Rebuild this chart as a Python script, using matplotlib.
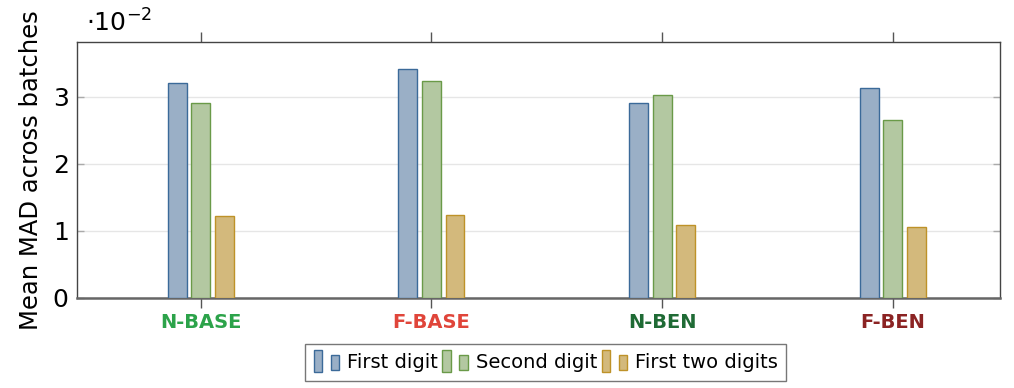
import numpy as np
import matplotlib
matplotlib.use("Agg")
import matplotlib.pyplot as plt
from matplotlib.patches import Rectangle
from matplotlib.legend_handler import HandlerBase

plt.rcParams['font.family'] = 'DejaVu Sans'

categories = ["N-BASE", "F-BASE", "N-BEN", "F-BEN"]
cat_colors = ["#2ca34a", "#e0453a", "#1f6b35", "#8b2323"]
series_names = ["First digit", "Second digit", "First two digits"]
first_digit = [3.21, 3.42, 2.91, 3.13]
second_digit = [2.91, 3.24, 3.03, 2.66]
first_two = [1.22, 1.24, 1.09, 1.06]

fills = ["#9aafc6", "#b3c8a1", "#d3b97c"]
edges = ["#3b6a99", "#6a9a48", "#be9228"]


class TwoBarHandler(HandlerBase):
    # pgfplots style legend image: two small bars
    def create_artists(self, legend, orig_handle, xdescent, ydescent,
                       width, height, fontsize, trans):
        fc = orig_handle.get_facecolor()
        ec = orig_handle.get_edgecolor()
        w = width * 0.3
        r1 = Rectangle((-xdescent, -ydescent - 0.3 * height), w, height * 1.6,
                       facecolor=fc, edgecolor=ec, lw=1.0, transform=trans)
        r2 = Rectangle((-xdescent + width * 0.62, -ydescent - 0.15 * height), w, height * 1.1,
                       facecolor=fc, edgecolor=ec, lw=1.0, transform=trans)
        return [r1, r2]


fig = plt.figure(figsize=(10.14, 3.88), dpi=100)
ax = fig.add_axes([0.0759, 0.232, 0.91, 0.660])

x = np.arange(len(categories))
bw = 0.082
off = 0.102
handles = []
for i, vals in enumerate([first_digit, second_digit, first_two]):
    b = ax.bar(x + (i - 1) * off, vals, bw, color=fills[i], edgecolor=edges[i],
               linewidth=1.0, label=series_names[i], zorder=3)
    handles.append(b.patches[0])

ax.set_xlim(-0.537, 3.464)
ax.set_ylim(0, 3.82)
ax.set_yticks([0, 1, 2, 3])
ax.grid(axis='y', color='#e6e6e6', lw=1.0, zorder=0)
ax.tick_params(axis='y', direction='in', right=True, length=5, color='#aaaaaa',
               labelsize=18, width=1, pad=6)
ax.tick_params(axis='x', direction='out', top=True, length=7, color='#555555',
               width=1)
ax.set_xticks(x)
ax.set_xticklabels(categories, fontsize=14, fontweight='bold')
for lbl, c in zip(ax.get_xticklabels(), cat_colors):
    lbl.set_color(c)
for sp in ax.spines.values():
    sp.set_color('#444444')
    sp.set_linewidth(1.0)
ax.spines['bottom'].set_color('#666666')
ax.spines['bottom'].set_linewidth(1.8)

ax.set_ylabel("Mean MAD across batches", fontsize=17.5, labelpad=7)
ax.text(0.01, 1.02, r"$\cdot 10^{-2}$", transform=ax.transAxes, fontsize=18,
        ha='left', va='bottom')

leg = ax.legend(handles, series_names, loc='upper center',
                bbox_to_anchor=(0.508, -0.18), ncol=3, fontsize=14,
                frameon=True, fancybox=False, edgecolor='#555555',
                handler_map={h: TwoBarHandler() for h in handles},
                handlelength=1.4, handletextpad=0.3, columnspacing=0.25,
                borderpad=0.45, borderaxespad=0)
leg.get_frame().set_linewidth(1.0)

fig.savefig("out.png", dpi=100)
